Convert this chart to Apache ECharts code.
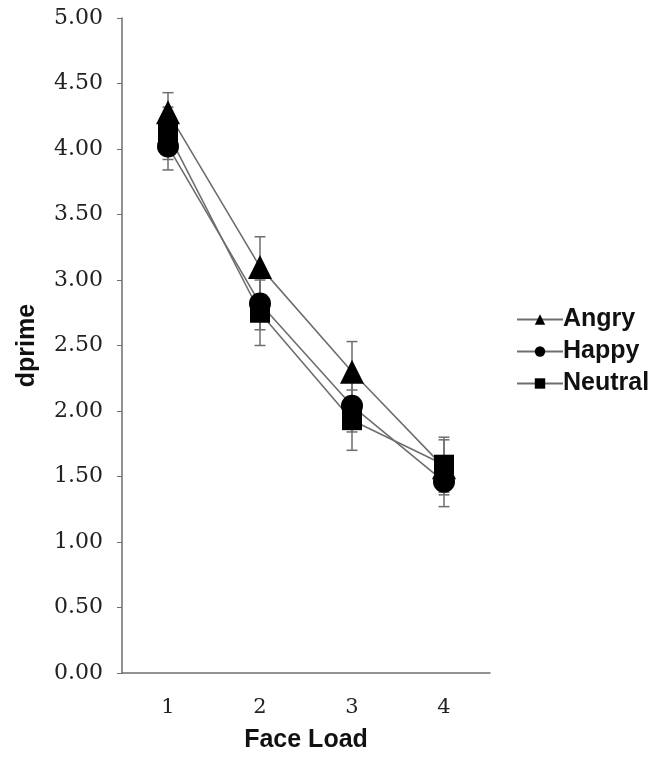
<!DOCTYPE html>
<html><head><meta charset="utf-8">
<script src="https://cdn.jsdelivr.net/npm/echarts@6/dist/echarts.min.js"></script>
<style>html,body{margin:0;padding:0;background:#fff}#c{width:663px;height:758px}</style>
</head><body><div id="c"></div>
<script>
var categories = ['1','2','3','4'];
var angry = [4.28, 3.10, 2.30, 1.57];
var happy = [4.02, 2.82, 2.04, 1.46];
var neutral = [4.12, 2.75, 1.93, 1.59];
var angryErr = [0.15, 0.23, 0.23, 0.21];
var happyErr = [0.18, 0.20, 0.20, 0.19];
var neutralErr = [0.20, 0.25, 0.23, 0.21];

var chart = echarts.init(document.getElementById('c'));
function errSeries(name, vals, errs){
  return {
    type: 'custom', name: name + ' err', silent: true, z: 1,
    data: vals.map(function(v,i){ return [i, v - errs[i], v + errs[i]]; }),
    renderItem: function(params, api){
      var lo = api.coord([api.value(0), api.value(1)]);
      var hi = api.coord([api.value(0), api.value(2)]);
      var w = 5.5;
      var st = {stroke: '#6e6e6e', lineWidth: 1.5};
      return {type: 'group', children: [
        {type:'line', shape:{x1:lo[0],y1:lo[1],x2:hi[0],y2:hi[1]}, style: st},
        {type:'line', shape:{x1:lo[0]-w,y1:lo[1],x2:lo[0]+w,y2:lo[1]}, style: st},
        {type:'line', shape:{x1:hi[0]-w,y1:hi[1],x2:hi[0]+w,y2:hi[1]}, style: st}
      ]};
    }
  };
}
function lineSeries(name, vals, sym, size){
  return {
    type: 'line', name: name, data: vals, symbol: sym, symbolSize: size, z: 3,
    itemStyle: {color: '#000'}, lineStyle: {color: '#6e6e6e', width: 1.6},
    emphasis: {disabled: true}
  };
}
chart.setOption({
  animation: false,
  grid: {left: 122, right: 173, top: 18, bottom: 85},
  legend: {
    orient: 'vertical', left: 511, top: 302, itemGap: 7, itemWidth: 46, itemHeight: 13,
    data: ['Angry','Happy','Neutral'],
    textStyle: {fontFamily: 'Liberation Sans', fontWeight: 'bold', fontSize: 25, color: '#111', padding: [0,0,0,-5]}
  },
  xAxis: {
    type: 'category', data: categories,
    name: 'Face Load', nameLocation: 'middle', nameGap: 55,
    nameTextStyle: {fontFamily: 'Liberation Sans', fontWeight: 'bold', fontSize: 25, color: '#111'},
    axisLine: {lineStyle: {color: '#6e6e6e', width: 1.5}},
    axisTick: {length: 5, lineStyle: {color: '#6e6e6e'}},
    axisLabel: {fontFamily: 'DejaVu Serif', fontSize: 21, color: '#222', margin: 24}
  },
  yAxis: {
    type: 'value', min: 0, max: 5, interval: 0.5,
    name: 'dprime', nameLocation: 'middle', nameGap: 82, nameRotate: 90,
    nameTextStyle: {fontFamily: 'Liberation Sans', fontWeight: 'bold', fontSize: 25, color: '#111'},
    splitLine: {show: false},
    axisLine: {show: true, lineStyle: {color: '#6e6e6e', width: 1.5}},
    axisTick: {show: true, length: 5, lineStyle: {color: '#6e6e6e'}},
    axisLabel: {fontFamily: 'DejaVu Serif', fontSize: 22, color: '#222', margin: 19,
      formatter: function(v){ return v.toFixed(2); }}
  },
  series: [
    errSeries('Angry', angry, angryErr),
    errSeries('Happy', happy, happyErr),
    errSeries('Neutral', neutral, neutralErr),
    lineSeries('Angry', angry, 'triangle', 24),
    lineSeries('Happy', happy, 'circle', 22),
    lineSeries('Neutral', neutral, 'rect', 20)
  ]
});
</script></body></html>
